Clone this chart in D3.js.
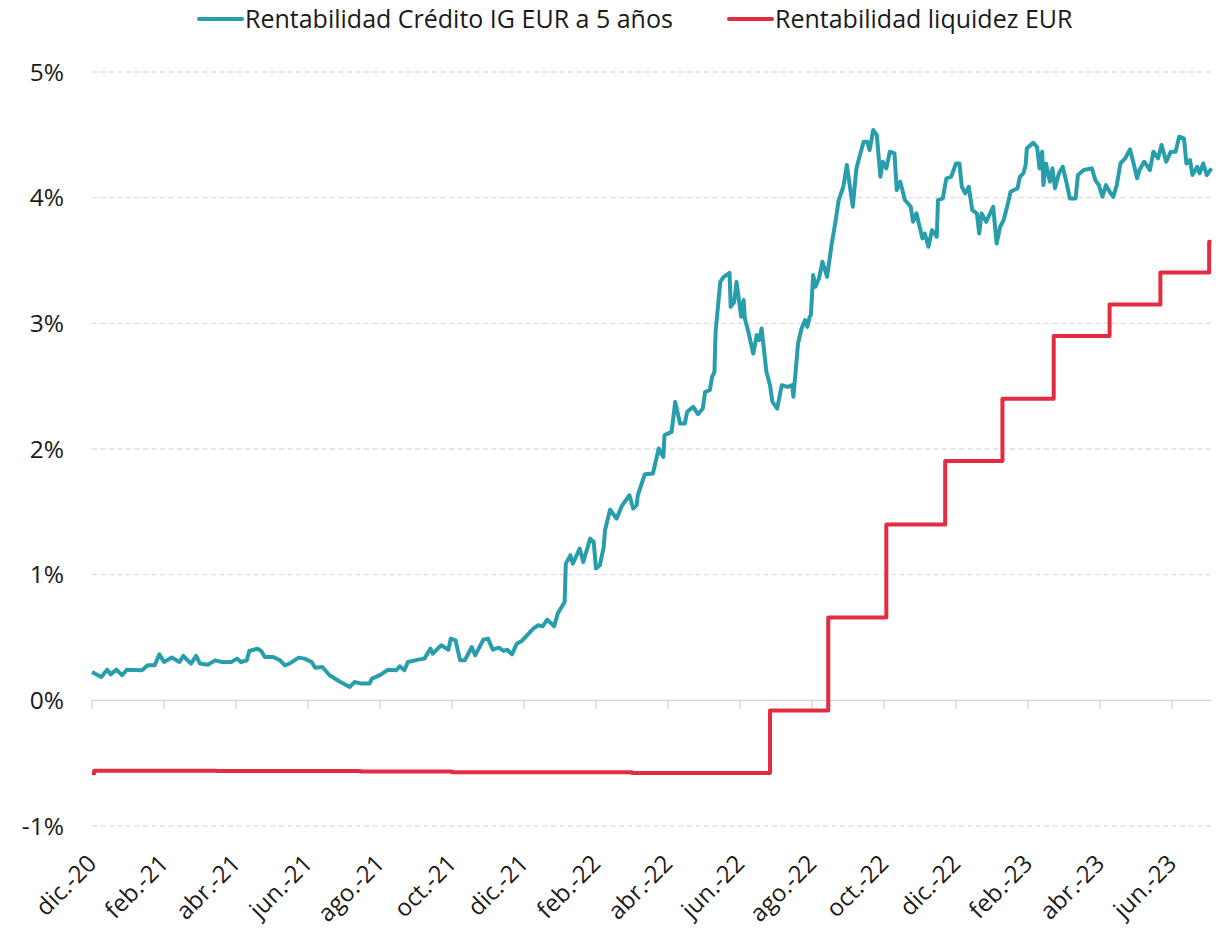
<!DOCTYPE html>
<html>
<head>
<meta charset="utf-8">
<script src="https://cdn.jsdelivr.net/npm/d3@7"></script>
<style>
  html, body { margin: 0; padding: 0; background: #fff; }
  svg { display: block; font-family: "Open Sans", "Noto Sans", sans-serif; }
</style>
</head>
<body>
<div id="chart"></div>
<script>
// series names
const seriesNames = ['Rentabilidad Crédito IG EUR a 5 años', 'Rentabilidad liquidez EUR'];
const seriesColors = ['#289eac', '#e32c40'];

// x axis ticks (every two months)
const tickDates = ['2020-12-01', '2021-02-01', '2021-04-01', '2021-06-01', '2021-08-01', '2021-10-01',
    '2021-12-01', '2022-02-01', '2022-04-01', '2022-06-01', '2022-08-01', '2022-10-01',
    '2022-12-01', '2023-02-01', '2023-04-01', '2023-06-01'];
const tickLabels = ['dic.-20', 'feb.-21', 'abr.-21', 'jun.-21', 'ago.-21', 'oct.-21',
    'dic.-21', 'feb.-22', 'abr.-22', 'jun.-22', 'ago.-22', 'oct.-22',
    'dic.-22', 'feb.-23', 'abr.-23', 'jun.-23'];
const yTicks = [-1, 0, 1, 2, 3, 4, 5];

// Rentabilidad Crédito IG EUR a 5 años (%)
const creditDates = [
    '2020-12-01', '2020-12-09', '2020-12-14', '2020-12-17', '2020-12-22', '2020-12-27', '2020-12-31',
    '2021-01-13', '2021-01-18', '2021-01-24', '2021-01-28', '2021-02-01', '2021-02-07', '2021-02-13',
    '2021-02-16', '2021-02-22', '2021-02-26', '2021-03-01', '2021-03-08', '2021-03-14', '2021-03-20',
    '2021-03-28', '2021-04-02', '2021-04-05', '2021-04-10', '2021-04-12', '2021-04-19', '2021-04-22',
    '2021-04-25', '2021-05-02', '2021-05-08', '2021-05-12', '2021-05-16', '2021-05-24', '2021-05-29',
    '2021-06-04', '2021-06-07', '2021-06-13', '2021-06-19', '2021-06-28', '2021-07-06', '2021-07-10',
    '2021-07-16', '2021-07-23', '2021-07-25', '2021-08-01', '2021-08-08', '2021-08-15', '2021-08-18',
    '2021-08-22', '2021-08-25', '2021-09-03', '2021-09-08', '2021-09-13', '2021-09-15', '2021-09-22',
    '2021-09-28', '2021-09-30', '2021-10-04', '2021-10-08', '2021-10-12', '2021-10-18', '2021-10-21',
    '2021-10-28', '2021-11-01', '2021-11-05', '2021-11-10', '2021-11-14', '2021-11-17', '2021-11-21',
    '2021-11-25', '2021-11-29', '2021-12-05', '2021-12-09', '2021-12-13', '2021-12-17', '2021-12-21',
    '2021-12-23', '2021-12-27', '2021-12-30', '2022-01-05', '2022-01-06', '2022-01-10', '2022-01-12',
    '2022-01-18', '2022-01-21', '2022-01-27', '2022-01-30', '2022-02-01', '2022-02-04', '2022-02-07',
    '2022-02-08', '2022-02-12', '2022-02-17', '2022-02-21', '2022-02-27', '2022-03-02', '2022-03-05',
    '2022-03-06', '2022-03-12', '2022-03-19', '2022-03-24', '2022-03-28', '2022-03-29', '2022-04-04',
    '2022-04-07', '2022-04-11', '2022-04-15', '2022-04-17', '2022-04-22', '2022-04-26', '2022-04-30',
    '2022-05-02', '2022-05-06', '2022-05-08', '2022-05-10', '2022-05-11', '2022-05-15', '2022-05-18',
    '2022-05-23', '2022-05-24', '2022-05-27', '2022-05-29', '2022-06-02', '2022-06-04', '2022-06-05',
    '2022-06-08', '2022-06-12', '2022-06-15', '2022-06-17', '2022-06-19', '2022-06-23', '2022-06-26',
    '2022-06-28', '2022-07-02', '2022-07-06', '2022-07-11', '2022-07-15', '2022-07-16', '2022-07-20',
    '2022-07-23', '2022-07-26', '2022-07-28', '2022-07-30', '2022-07-31', '2022-08-02', '2022-08-04',
    '2022-08-07', '2022-08-10', '2022-08-14', '2022-08-18', '2022-08-21', '2022-08-24', '2022-08-28',
    '2022-08-31', '2022-09-05', '2022-09-08', '2022-09-11', '2022-09-14', '2022-09-17', '2022-09-19',
    '2022-09-22', '2022-09-25', '2022-09-28', '2022-09-30', '2022-10-03', '2022-10-06', '2022-10-10',
    '2022-10-12', '2022-10-15', '2022-10-19', '2022-10-24', '2022-10-26', '2022-10-29', '2022-10-31',
    '2022-11-03', '2022-11-05', '2022-11-08', '2022-11-11', '2022-11-15', '2022-11-16', '2022-11-20',
    '2022-11-23', '2022-11-27', '2022-12-01', '2022-12-04', '2022-12-06', '2022-12-09', '2022-12-12',
    '2022-12-15', '2022-12-19', '2022-12-21', '2022-12-23', '2022-12-27', '2023-01-02', '2023-01-05',
    '2023-01-08', '2023-01-11', '2023-01-14', '2023-01-17', '2023-01-23', '2023-01-25', '2023-01-28',
    '2023-01-30', '2023-01-31', '2023-02-05', '2023-02-08', '2023-02-10', '2023-02-12', '2023-02-13',
    '2023-02-15', '2023-02-18', '2023-02-20', '2023-02-22', '2023-02-25', '2023-02-28', '2023-03-03',
    '2023-03-06', '2023-03-11', '2023-03-13', '2023-03-18', '2023-03-25', '2023-03-28', '2023-03-31',
    '2023-04-03', '2023-04-06', '2023-04-09', '2023-04-12', '2023-04-15', '2023-04-18', '2023-04-22',
    '2023-04-26', '2023-04-29', '2023-05-02', '2023-05-04', '2023-05-08', '2023-05-13', '2023-05-16',
    '2023-05-20', '2023-05-23', '2023-05-27', '2023-05-31', '2023-06-04', '2023-06-07', '2023-06-11',
    '2023-06-13', '2023-06-16', '2023-06-18', '2023-06-22', '2023-06-24', '2023-06-27', '2023-06-30',
    '2023-07-04'];
const creditValues = [
    0.225, 0.186, 0.244, 0.207, 0.244, 0.200, 0.244,
    0.239, 0.279, 0.279, 0.366, 0.305, 0.340, 0.305,
    0.353, 0.292, 0.353, 0.292, 0.284, 0.318, 0.305,
    0.305, 0.332, 0.305, 0.318, 0.393, 0.411, 0.393,
    0.345, 0.345, 0.318, 0.279, 0.292, 0.340, 0.332,
    0.305, 0.260, 0.265, 0.200, 0.146, 0.106, 0.146,
    0.133, 0.133, 0.173, 0.200, 0.244, 0.239, 0.271,
    0.239, 0.305, 0.324, 0.332, 0.411, 0.372, 0.438,
    0.403, 0.491, 0.478, 0.318, 0.318, 0.424, 0.358,
    0.483, 0.491, 0.403, 0.419, 0.393, 0.403, 0.366,
    0.451, 0.472, 0.531, 0.571, 0.597, 0.589, 0.642,
    0.624, 0.589, 0.690, 0.783, 1.088, 1.155, 1.088,
    1.208, 1.101, 1.287, 1.261, 1.049, 1.075, 1.221,
    1.354, 1.518, 1.446, 1.545, 1.632, 1.526, 1.553,
    1.632, 1.799, 1.805, 2.004, 1.937, 2.110, 2.136,
    2.375, 2.203, 2.203, 2.296, 2.335, 2.277, 2.322,
    2.455, 2.468, 2.574, 2.614, 2.932, 3.330, 3.370,
    3.402, 3.131, 3.171, 3.330, 3.052, 3.185, 3.039,
    2.932, 2.760, 2.906, 2.866, 2.959, 2.614, 2.508,
    2.375, 2.322, 2.508, 2.494, 2.508, 2.415, 2.840,
    2.959, 3.025, 2.972, 3.052, 3.065, 3.384, 3.291,
    3.357, 3.490, 3.370, 3.635, 3.795, 3.981, 4.087,
    4.260, 3.928, 4.233, 4.339, 4.445, 4.445, 4.379,
    4.538, 4.498, 4.166, 4.286, 4.233, 4.366, 4.352,
    4.061, 4.127, 3.981, 3.928, 3.808, 3.875, 3.795,
    3.676, 3.715, 3.609, 3.742, 3.689, 3.981, 3.994,
    4.154, 4.166, 4.272, 4.272, 4.087, 4.034, 4.087,
    3.901, 3.875, 3.715, 3.875, 3.808, 3.928, 3.635,
    3.768, 3.822, 3.928, 4.047, 4.074, 4.166, 4.193,
    4.260, 4.392, 4.437, 4.405, 4.233, 4.366, 4.100,
    4.272, 4.127, 4.233, 4.074, 4.193, 4.246, 4.127,
    3.994, 3.994, 4.180, 4.220, 4.233, 4.140, 4.100,
    4.007, 4.100, 4.047, 4.007, 4.100, 4.272, 4.313,
    4.384, 4.272, 4.154, 4.220, 4.286, 4.220, 4.366,
    4.313, 4.419, 4.286, 4.366, 4.366, 4.485, 4.472,
    4.272, 4.299, 4.180, 4.246, 4.193, 4.272, 4.180,
    4.233];

// Rentabilidad liquidez EUR (%), value from each date onward
const cashDates = ['2020-12-01', '2020-12-03', '2021-03-15', '2021-07-15', '2021-10-01', '2022-03-01',
    '2022-06-26', '2022-08-15', '2022-10-03', '2022-11-22', '2023-01-10', '2023-02-21',
    '2023-04-09', '2023-05-22', '2023-07-02', '2023-07-04'];
const cashValues = [-0.58, -0.56, -0.562, -0.566, -0.572, -0.578,
    -0.08, 0.66, 1.40, 1.905, 2.40, 2.90,
    3.15, 3.405, 3.65, 3.65];

const W = 1220;
const H = 931;
const left = 92;
const monthWidth = 36;
const parse = d3.timeParse('%Y-%m-%d');

// Excel text axis: every month gets the same width
const months = d3.timeMonth.range(parse('2020-12-01'), parse('2023-08-02'));
const x = d3.scaleTime()
    .domain(months)
    .range(months.map((d, i) => left + i * monthWidth));
const xEnd = x(parse(creditDates[creditDates.length - 1]));

const y = d3.scaleLinear().domain([-1, 5]).range([826, 72]);

const svg = d3.select('#chart')
    .append('svg')
    .attr('width', W)
    .attr('height', H)
    .attr('viewBox', [0, 0, W, H]);

// horizontal gridlines
svg.append('g')
    .selectAll('line')
    .data(yTicks.filter((d) => d !== 0))
    .enter()
    .append('line')
    .attr('x1', left)
    .attr('x2', xEnd)
    .attr('y1', (d) => y(d))
    .attr('y2', (d) => y(d))
    .style('stroke', '#dedede')
    .style('stroke-width', 1.3)
    .style('stroke-dasharray', '5,3.5');

// y labels
svg.append('g')
    .selectAll('text')
    .data(yTicks)
    .enter()
    .append('text')
    .attr('x', 64)
    .attr('y', (d) => y(d))
    .attr('dy', '0.36em')
    .attr('text-anchor', 'end')
    .style('font-size', '24.5px')
    .style('fill', '#1a1a1a')
    .text((d) => `${ d }%`);

// zero axis with ticks
const axis = svg.append('g');
axis.append('line')
    .attr('x1', left)
    .attr('x2', xEnd)
    .attr('y1', y(0))
    .attr('y2', y(0))
    .style('stroke', '#d6d6d6')
    .style('stroke-width', 1.3);
axis.selectAll('.tick')
    .data(tickDates)
    .enter()
    .append('line')
    .attr('class', 'tick')
    .attr('x1', (d) => x(parse(d)))
    .attr('x2', (d) => x(parse(d)))
    .attr('y1', y(0))
    .attr('y2', y(0) + 9)
    .style('stroke', '#d6d6d6')
    .style('stroke-width', 1.3);

// x labels, rotated
svg.append('g')
    .selectAll('text')
    .data(tickDates)
    .enter()
    .append('text')
    .attr('transform', (d) => `translate(${ x(parse(d)) + 6 }, 865) rotate(-45)`)
    .attr('text-anchor', 'end')
    .style('font-size', '24px')
    .style('fill', '#1a1a1a')
    .text((d, i) => tickLabels[i]);

// lines
const creditData = creditDates.map((d, i) => ({ date: parse(d), value: creditValues[i] }));
const cashData = cashDates.map((d, i) => ({ date: parse(d), value: cashValues[i] }));

const lineCredit = d3.line()
    .x((d) => x(d.date))
    .y((d) => y(d.value));
const lineCash = d3.line()
    .x((d) => x(d.date))
    .y((d) => y(d.value))
    .curve(d3.curveStepAfter);

svg.append('path')
    .datum(cashData)
    .attr('d', lineCash)
    .style('fill', 'none')
    .style('stroke', seriesColors[1])
    .style('stroke-width', 4)
    .style('stroke-linejoin', 'round');

svg.append('path')
    .datum(creditData)
    .attr('d', lineCredit)
    .style('fill', 'none')
    .style('stroke', seriesColors[0])
    .style('stroke-width', 4)
    .style('stroke-linejoin', 'round');

// legend
const legendX = [199, 729];
const legend = svg.append('g')
    .selectAll('g')
    .data(seriesNames)
    .enter()
    .append('g')
    .attr('transform', (d, i) => `translate(${ legendX[i] }, 19)`);
legend.append('line')
    .attr('x1', 0)
    .attr('x2', 43)
    .style('stroke', (d, i) => seriesColors[i])
    .style('stroke-width', 4)
    .style('stroke-linecap', 'round');
legend.append('text')
    .attr('x', 46)
    .attr('dy', '0.37em')
    .style('font-size', '25px')
    .style('fill', '#1a1a1a')
    .text((d) => d);
</script>
</body>
</html>
